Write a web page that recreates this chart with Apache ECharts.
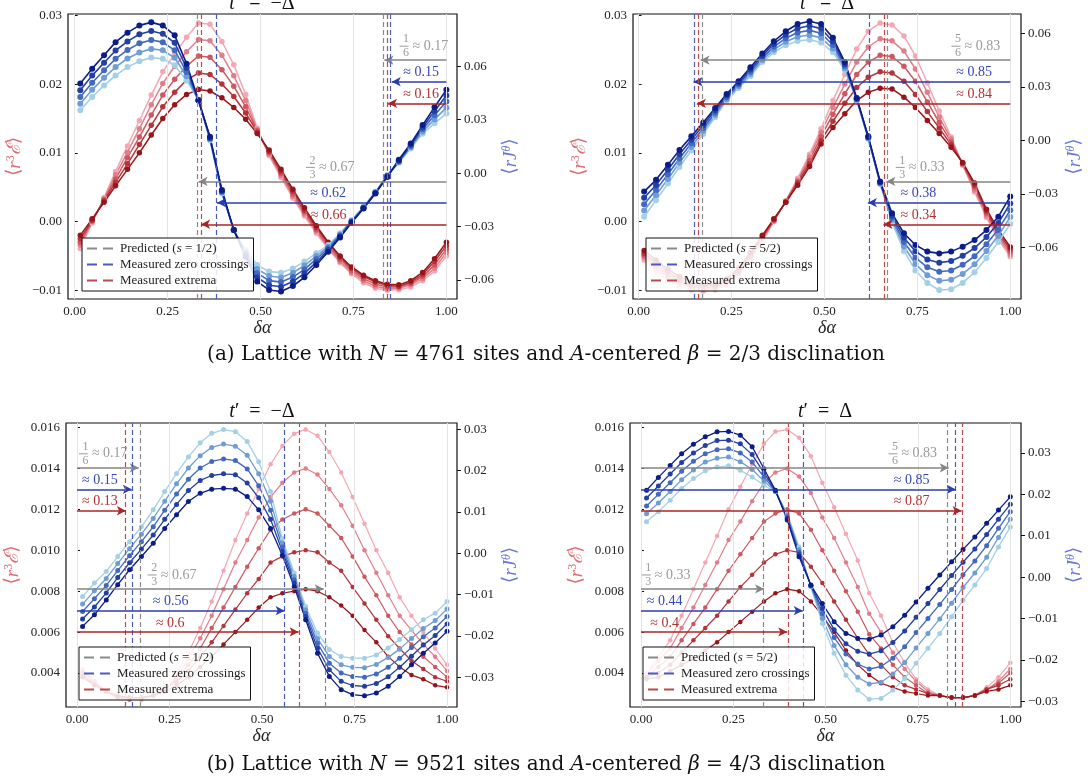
<!DOCTYPE html>
<html>
<head>
<meta charset="utf-8">
<script src="https://cdn.jsdelivr.net/npm/echarts@6/dist/echarts.min.js"></script>
<style>html,body{margin:0;padding:0;background:#fff}#main{width:1091px;height:784px}</style>
</head>
<body>
<div id="main"></div>
<script>
// δα sample points
var X = [0.015,0.047,0.079,0.110,0.142,0.174,0.206,0.237,0.269,0.301,0.333,0.364,0.396,0.428,0.460,0.491,0.523,0.555,0.587,0.618,0.650,0.682,0.714,0.745,0.777,0.809,0.841,0.872,0.904,0.936,0.968,1.000];

// (a) t' = -Δ, <r^3 E>, light -> dark
var p1Red = [
  [-0.0039,-0.0002,0.0035,0.0073,0.0110,0.0147,0.0184,0.0218,0.0244,0.0268,0.0289,0.0287,0.0262,0.0228,0.0185,0.0136,0.0096,0.0064,0.0034,0.0008,-0.0017,-0.0040,-0.0060,-0.0076,-0.0089,-0.0097,-0.0100,-0.0099,-0.0095,-0.0086,-0.0072,-0.0050],
  [-0.0034,0.0000,0.0033,0.0068,0.0101,0.0135,0.0170,0.0201,0.0226,0.0247,0.0265,0.0263,0.0242,0.0212,0.0176,0.0134,0.0098,0.0067,0.0037,0.0011,-0.0014,-0.0038,-0.0058,-0.0074,-0.0086,-0.0094,-0.0098,-0.0097,-0.0092,-0.0083,-0.0068,-0.0045],
  [-0.0030,0.0001,0.0032,0.0062,0.0093,0.0123,0.0155,0.0184,0.0207,0.0226,0.0241,0.0239,0.0221,0.0197,0.0167,0.0132,0.0100,0.0070,0.0040,0.0014,-0.0012,-0.0035,-0.0055,-0.0071,-0.0083,-0.0091,-0.0095,-0.0095,-0.0090,-0.0080,-0.0063,-0.0040],
  [-0.0025,0.0002,0.0030,0.0057,0.0084,0.0112,0.0140,0.0167,0.0188,0.0206,0.0216,0.0214,0.0200,0.0182,0.0158,0.0130,0.0102,0.0073,0.0044,0.0017,-0.0009,-0.0032,-0.0052,-0.0068,-0.0080,-0.0088,-0.0093,-0.0094,-0.0088,-0.0077,-0.0058,-0.0035],
  [-0.0020,0.0004,0.0028,0.0052,0.0076,0.0100,0.0126,0.0150,0.0170,0.0185,0.0192,0.0190,0.0180,0.0166,0.0149,0.0128,0.0104,0.0076,0.0047,0.0020,-0.0006,-0.0030,-0.0050,-0.0066,-0.0078,-0.0086,-0.0091,-0.0092,-0.0086,-0.0074,-0.0054,-0.0030]
];
// (a) t' = -Δ, <r J^θ>, light -> dark
var p1Blue = [
  [0.0353,0.0428,0.0493,0.0549,0.0596,0.0628,0.0649,0.0643,0.0606,0.0521,0.0409,0.0185,-0.0114,-0.0320,-0.0432,-0.0516,-0.0553,-0.0559,-0.0535,-0.0497,-0.0450,-0.0404,-0.0338,-0.0264,-0.0189,-0.0105,-0.0011,0.0058,0.0138,0.0222,0.0280,0.0335],
  [0.0390,0.0468,0.0536,0.0596,0.0644,0.0678,0.0698,0.0690,0.0648,0.0544,0.0409,0.0190,-0.0109,-0.0320,-0.0441,-0.0539,-0.0578,-0.0586,-0.0560,-0.0519,-0.0466,-0.0413,-0.0344,-0.0268,-0.0192,-0.0108,-0.0014,0.0062,0.0145,0.0234,0.0302,0.0368],
  [0.0428,0.0508,0.0578,0.0642,0.0692,0.0729,0.0748,0.0736,0.0690,0.0568,0.0409,0.0194,-0.0104,-0.0320,-0.0450,-0.0562,-0.0604,-0.0612,-0.0584,-0.0541,-0.0483,-0.0422,-0.0350,-0.0271,-0.0194,-0.0110,-0.0016,0.0066,0.0152,0.0246,0.0325,0.0402],
  [0.0466,0.0548,0.0620,0.0689,0.0740,0.0780,0.0798,0.0783,0.0732,0.0592,0.0409,0.0199,-0.0100,-0.0320,-0.0460,-0.0586,-0.0630,-0.0638,-0.0609,-0.0563,-0.0500,-0.0432,-0.0356,-0.0274,-0.0196,-0.0112,-0.0018,0.0070,0.0159,0.0258,0.0348,0.0436],
  [0.0503,0.0587,0.0662,0.0736,0.0789,0.0830,0.0847,0.0830,0.0774,0.0615,0.0409,0.0204,-0.0095,-0.0320,-0.0469,-0.0609,-0.0656,-0.0665,-0.0634,-0.0585,-0.0516,-0.0441,-0.0361,-0.0278,-0.0198,-0.0114,-0.0021,0.0075,0.0166,0.0270,0.0370,0.0469]
];

// (a) t' = Δ
var p2Red = [
  [-0.0056,-0.0072,-0.0085,-0.0094,-0.0099,-0.0101,-0.0099,-0.0093,-0.0079,-0.0057,-0.0029,0.0000,0.0030,0.0063,0.0098,0.0135,0.0176,0.0214,0.0251,0.0277,0.0289,0.0286,0.0270,0.0241,0.0202,0.0161,0.0123,0.0082,0.0043,0.0006,-0.0026,-0.0051],
  [-0.0052,-0.0068,-0.0081,-0.0090,-0.0096,-0.0098,-0.0097,-0.0090,-0.0076,-0.0054,-0.0026,0.0001,0.0030,0.0060,0.0094,0.0130,0.0166,0.0200,0.0232,0.0254,0.0266,0.0263,0.0248,0.0222,0.0188,0.0152,0.0120,0.0083,0.0046,0.0009,-0.0022,-0.0048],
  [-0.0049,-0.0064,-0.0077,-0.0087,-0.0094,-0.0096,-0.0095,-0.0088,-0.0074,-0.0051,-0.0024,0.0002,0.0029,0.0058,0.0089,0.0124,0.0156,0.0186,0.0214,0.0232,0.0242,0.0240,0.0226,0.0204,0.0174,0.0144,0.0116,0.0084,0.0050,0.0012,-0.0019,-0.0044],
  [-0.0046,-0.0060,-0.0073,-0.0084,-0.0091,-0.0094,-0.0093,-0.0086,-0.0071,-0.0048,-0.0022,0.0003,0.0028,0.0056,0.0084,0.0118,0.0146,0.0172,0.0195,0.0210,0.0218,0.0216,0.0204,0.0185,0.0160,0.0136,0.0112,0.0085,0.0053,0.0015,-0.0016,-0.0040],
  [-0.0042,-0.0056,-0.0069,-0.0080,-0.0088,-0.0092,-0.0091,-0.0083,-0.0068,-0.0045,-0.0020,0.0004,0.0028,0.0053,0.0080,0.0113,0.0137,0.0157,0.0176,0.0188,0.0194,0.0193,0.0181,0.0166,0.0147,0.0128,0.0108,0.0086,0.0056,0.0018,-0.0012,-0.0037]
];
var p2Blue = [
  [-0.0428,-0.0335,-0.0242,-0.0149,-0.0056,0.0037,0.0130,0.0223,0.0295,0.0360,0.0440,0.0495,0.0535,0.0558,0.0566,0.0550,0.0495,0.0395,0.0225,0.0010,-0.0245,-0.0460,-0.0620,-0.0730,-0.0800,-0.0840,-0.0835,-0.0800,-0.0740,-0.0660,-0.0570,-0.0469],
  [-0.0393,-0.0306,-0.0216,-0.0125,-0.0036,0.0053,0.0143,0.0232,0.0304,0.0373,0.0452,0.0510,0.0554,0.0582,0.0592,0.0576,0.0516,0.0406,0.0228,0.0013,-0.0242,-0.0447,-0.0595,-0.0694,-0.0756,-0.0788,-0.0782,-0.0749,-0.0695,-0.0621,-0.0534,-0.0430],
  [-0.0358,-0.0278,-0.0190,-0.0101,-0.0016,0.0069,0.0156,0.0242,0.0314,0.0386,0.0464,0.0526,0.0574,0.0606,0.0618,0.0602,0.0536,0.0418,0.0232,0.0016,-0.0238,-0.0434,-0.0570,-0.0658,-0.0712,-0.0737,-0.0730,-0.0698,-0.0650,-0.0582,-0.0499,-0.0392],
  [-0.0322,-0.0250,-0.0164,-0.0077,0.0004,0.0085,0.0169,0.0252,0.0323,0.0398,0.0476,0.0542,0.0594,0.0630,0.0644,0.0628,0.0556,0.0429,0.0235,0.0020,-0.0234,-0.0422,-0.0546,-0.0622,-0.0668,-0.0686,-0.0677,-0.0647,-0.0604,-0.0542,-0.0464,-0.0354],
  [-0.0287,-0.0221,-0.0137,-0.0053,0.0023,0.0101,0.0182,0.0261,0.0332,0.0411,0.0488,0.0557,0.0613,0.0654,0.0669,0.0654,0.0576,0.0440,0.0238,0.0023,-0.0231,-0.0409,-0.0521,-0.0587,-0.0624,-0.0634,-0.0624,-0.0596,-0.0559,-0.0503,-0.0428,-0.0315]
];

// (b) t' = -Δ
var p3Red = [
  [0.0042,0.0036,0.0031,0.0028,0.0027,0.0027,0.0029,0.0033,0.0040,0.0050,0.0062,0.0075,0.0090,0.0105,0.0118,0.0130,0.0142,0.0151,0.0157,0.0159,0.0156,0.0148,0.0138,0.0126,0.0113,0.0100,0.0089,0.0077,0.0068,0.0060,0.0052,0.0044],
  [0.0041,0.0036,0.0031,0.0028,0.0027,0.0028,0.0029,0.0032,0.0038,0.0047,0.0057,0.0068,0.0081,0.0094,0.0105,0.0116,0.0126,0.0133,0.0138,0.0140,0.0137,0.0130,0.0122,0.0112,0.0100,0.0089,0.0078,0.0068,0.0061,0.0054,0.0048,0.0041],
  [0.0040,0.0035,0.0031,0.0028,0.0028,0.0028,0.0029,0.0032,0.0037,0.0044,0.0052,0.0062,0.0072,0.0082,0.0092,0.0101,0.0110,0.0115,0.0118,0.0120,0.0118,0.0112,0.0106,0.0097,0.0087,0.0078,0.0068,0.0060,0.0054,0.0048,0.0043,0.0038],
  [0.0039,0.0034,0.0031,0.0028,0.0028,0.0028,0.0029,0.0032,0.0036,0.0041,0.0048,0.0055,0.0063,0.0071,0.0079,0.0086,0.0094,0.0097,0.0099,0.0100,0.0099,0.0094,0.0090,0.0082,0.0074,0.0066,0.0058,0.0052,0.0046,0.0042,0.0038,0.0036],
  [0.0038,0.0034,0.0031,0.0029,0.0028,0.0028,0.0029,0.0031,0.0034,0.0038,0.0043,0.0048,0.0054,0.0060,0.0066,0.0072,0.0077,0.0079,0.0080,0.0081,0.0080,0.0077,0.0073,0.0068,0.0061,0.0055,0.0048,0.0043,0.0039,0.0037,0.0034,0.0033]
];
var p3Blue = [
  [-0.0105,-0.0072,-0.0044,-0.0008,0.0028,0.0064,0.0105,0.0149,0.0193,0.0233,0.0267,0.0290,0.0299,0.0294,0.0270,0.0221,0.0149,0.0035,-0.0048,-0.0129,-0.0193,-0.0233,-0.0250,-0.0254,-0.0254,-0.0246,-0.0229,-0.0209,-0.0185,-0.0161,-0.0145,-0.0117],
  [-0.0123,-0.0091,-0.0061,-0.0025,0.0011,0.0046,0.0084,0.0126,0.0168,0.0206,0.0236,0.0256,0.0264,0.0259,0.0237,0.0192,0.0126,0.0025,-0.0056,-0.0137,-0.0206,-0.0250,-0.0270,-0.0276,-0.0277,-0.0269,-0.0252,-0.0232,-0.0206,-0.0182,-0.0163,-0.0135],
  [-0.0141,-0.0110,-0.0078,-0.0042,-0.0006,0.0028,0.0064,0.0104,0.0143,0.0179,0.0206,0.0222,0.0228,0.0224,0.0204,0.0163,0.0104,0.0015,-0.0064,-0.0145,-0.0218,-0.0266,-0.0290,-0.0298,-0.0300,-0.0292,-0.0276,-0.0254,-0.0228,-0.0202,-0.0181,-0.0153],
  [-0.0159,-0.0130,-0.0096,-0.0059,-0.0023,0.0010,0.0044,0.0082,0.0118,0.0152,0.0176,0.0188,0.0192,0.0190,0.0170,0.0134,0.0082,0.0005,-0.0072,-0.0153,-0.0230,-0.0282,-0.0310,-0.0320,-0.0322,-0.0315,-0.0299,-0.0276,-0.0249,-0.0222,-0.0199,-0.0171],
  [-0.0177,-0.0149,-0.0113,-0.0076,-0.0040,-0.0008,0.0024,0.0060,0.0093,0.0125,0.0145,0.0155,0.0157,0.0155,0.0137,0.0105,0.0060,-0.0005,-0.0081,-0.0161,-0.0242,-0.0298,-0.0330,-0.0342,-0.0345,-0.0338,-0.0322,-0.0298,-0.0270,-0.0242,-0.0217,-0.0189]
];

// (b) t' = Δ
var p4Red = [
  [0.0040,0.0048,0.0056,0.0068,0.0081,0.0094,0.0107,0.0120,0.0131,0.0142,0.0152,0.0158,0.0159,0.0155,0.0146,0.0133,0.0121,0.0108,0.0095,0.0079,0.0068,0.0055,0.0045,0.0037,0.0032,0.0029,0.0028,0.0028,0.0029,0.0033,0.0038,0.0045],
  [0.0039,0.0046,0.0052,0.0062,0.0072,0.0083,0.0094,0.0105,0.0114,0.0124,0.0133,0.0138,0.0140,0.0136,0.0128,0.0116,0.0106,0.0094,0.0082,0.0069,0.0060,0.0050,0.0042,0.0036,0.0031,0.0029,0.0028,0.0028,0.0029,0.0032,0.0036,0.0042],
  [0.0038,0.0043,0.0048,0.0056,0.0064,0.0072,0.0081,0.0090,0.0098,0.0106,0.0114,0.0118,0.0120,0.0118,0.0110,0.0100,0.0090,0.0080,0.0070,0.0059,0.0052,0.0044,0.0038,0.0034,0.0030,0.0029,0.0028,0.0028,0.0029,0.0032,0.0035,0.0040],
  [0.0038,0.0040,0.0044,0.0050,0.0056,0.0062,0.0068,0.0075,0.0082,0.0088,0.0094,0.0098,0.0100,0.0099,0.0092,0.0084,0.0075,0.0066,0.0057,0.0049,0.0044,0.0038,0.0034,0.0032,0.0030,0.0029,0.0028,0.0028,0.0029,0.0032,0.0034,0.0037],
  [0.0037,0.0038,0.0041,0.0044,0.0047,0.0051,0.0055,0.0060,0.0065,0.0070,0.0075,0.0079,0.0081,0.0080,0.0075,0.0068,0.0060,0.0051,0.0044,0.0039,0.0035,0.0033,0.0031,0.0030,0.0029,0.0029,0.0028,0.0028,0.0029,0.0031,0.0032,0.0034]
];
var p4Blue = [
  [0.0134,0.0158,0.0186,0.0214,0.0238,0.0257,0.0266,0.0269,0.0258,0.0242,0.0222,0.0206,0.0154,0.0073,-0.0023,-0.0112,-0.0184,-0.0237,-0.0273,-0.0295,-0.0293,-0.0273,-0.0245,-0.0208,-0.0172,-0.0136,-0.0096,-0.0056,-0.0019,0.0021,0.0073,0.0121],
  [0.0153,0.0179,0.0207,0.0235,0.0259,0.0278,0.0287,0.0290,0.0279,0.0260,0.0232,0.0207,0.0150,0.0067,-0.0022,-0.0100,-0.0165,-0.0212,-0.0242,-0.0258,-0.0254,-0.0234,-0.0206,-0.0171,-0.0136,-0.0101,-0.0063,-0.0025,0.0010,0.0048,0.0096,0.0140],
  [0.0172,0.0200,0.0228,0.0256,0.0280,0.0298,0.0308,0.0310,0.0300,0.0278,0.0242,0.0208,0.0146,0.0061,-0.0021,-0.0088,-0.0146,-0.0186,-0.0210,-0.0222,-0.0216,-0.0196,-0.0168,-0.0134,-0.0100,-0.0066,-0.0030,0.0006,0.0039,0.0076,0.0118,0.0158],
  [0.0191,0.0220,0.0249,0.0277,0.0300,0.0318,0.0330,0.0331,0.0322,0.0296,0.0252,0.0209,0.0142,0.0055,-0.0020,-0.0076,-0.0127,-0.0161,-0.0179,-0.0186,-0.0178,-0.0158,-0.0130,-0.0097,-0.0064,-0.0030,0.0004,0.0036,0.0068,0.0103,0.0140,0.0176],
  [0.0210,0.0241,0.0270,0.0298,0.0321,0.0339,0.0351,0.0352,0.0343,0.0315,0.0262,0.0210,0.0138,0.0049,-0.0019,-0.0064,-0.0108,-0.0136,-0.0148,-0.0150,-0.0140,-0.0120,-0.0092,-0.0060,-0.0027,0.0005,0.0037,0.0067,0.0097,0.0130,0.0162,0.0194]
];

// predicted / measured crossings (vertical dashed lines)
var p1Lines = { pred: [0.3333, 0.8333], zero: [0.383, 0.853], ext: [0.340, 0.843] };
var p2Lines = { pred: [0.1667, 0.6667], zero: [0.148, 0.617], ext: [0.157, 0.659] };
var p3Lines = { pred: [0.1667, 0.6667], zero: [0.148, 0.561], ext: [0.132, 0.599] };
var p4Lines = { pred: [0.3333, 0.8333], zero: [0.438, 0.852], ext: [0.396, 0.868] };

// arrows: [kind, from, to, level on the left axis]
var p1Arrows = [['pred',1,0.8333,0.02348],['zero',1,0.853,0.02034],['ext',1,0.843,0.0172],['pred',1,0.3333,0.00585],['zero',1,0.383,0.00275],['ext',1,0.340,-0.00039]];
var p2Arrows = [['pred',1,0.1667,0.02348],['zero',1,0.148,0.02034],['ext',1,0.157,0.0172],['pred',1,0.6667,0.00585],['zero',1,0.617,0.00275],['ext',1,0.659,-0.00039]];
var p3Arrows = [['pred',0,0.1667,0.01403],['zero',0,0.148,0.01298],['ext',0,0.132,0.01193],['pred',0,0.6667,0.00811],['zero',0,0.561,0.00705],['ext',0,0.599,0.00601]];
var p4Arrows = [['pred',0,0.8333,0.01403],['zero',0,0.852,0.01298],['ext',0,0.868,0.01193],['pred',0,0.3333,0.00811],['zero',0,0.438,0.00705],['ext',0,0.396,0.00601]];

// arrow labels: [kind, x, level, text] or [kind, x, level, num, den, text]
var p1Notes = [['pred',0.874,0.02348,'1','6','0.17'],['zero',0.932,0.02034,'≈ 0.15'],['ext',0.932,0.0172,'≈ 0.16'],['pred',0.622,0.00585,'2','3','0.67'],['zero',0.682,0.00275,'≈ 0.62'],['ext',0.683,-0.00039,'≈ 0.66']];
var p2Notes = [['pred',0.842,0.02348,'5','6','0.83'],['zero',0.903,0.02034,'≈ 0.85'],['ext',0.903,0.0172,'≈ 0.84'],['pred',0.692,0.00585,'1','3','0.33'],['zero',0.753,0.00275,'≈ 0.38'],['ext',0.753,-0.00039,'≈ 0.34']];
var p3Notes = [['pred',0.005,0.01403,'1','6','0.17'],['zero',0.062,0.01298,'≈ 0.15'],['ext',0.062,0.01193,'≈ 0.13'],['pred',0.191,0.00811,'2','3','0.67'],['zero',0.253,0.00705,'≈ 0.56'],['ext',0.252,0.00601,'≈ 0.6']];
var p4Notes = [['pred',0.670,0.01403,'5','6','0.83'],['zero',0.733,0.01298,'≈ 0.85'],['ext',0.733,0.01193,'≈ 0.87'],['pred',0.002,0.00811,'1','3','0.33'],['zero',0.064,0.00705,'≈ 0.44'],['ext',0.064,0.00601,'≈ 0.4']];

var xTicks = [0, 0.25, 0.5, 0.75, 1];
var leftTicksA = [-0.01, 0, 0.01, 0.02, 0.03];
var leftTicksB = [0.004, 0.006, 0.008, 0.010, 0.012, 0.014, 0.016];
var rightTicksA = [-0.06, -0.03, 0, 0.03, 0.06];
var rightTicksB = [-0.03, -0.02, -0.01, 0, 0.01, 0.02, 0.03];

var FONT = '"Liberation Serif", "DejaVu Serif", serif';
var redColors = ['#f4a7b2', '#e27e8a', '#cd5860', '#b3343a', '#981418'];
var blueColors = ['#a4d0e6', '#6e9dd6', '#4269c0', '#2240a4', '#0b1c8b'];
var kindColor = { pred: '#858585', zero: '#2a3db0', ext: '#aa2525' };
var noteColor = { pred: '#9a9a9a', zero: '#3446bb', ext: '#b33030' };
var lineColor = { pred: '#8a8a8a', zero: '#4a5ac4', ext: '#c04848' };

var panels = [
  { grid: { left: 68, top: 14, width: 389, height: 285 }, x: [-0.018, 1.0285], yl: [-0.01126, 0.0302], yr: [-0.0707, 0.0894],
    lt: leftTicksA, rt: rightTicksA, dl: 2, red: p1Red, blue: p1Blue, lines: p1Lines, arrows: p1Arrows, notes: p1Notes, s: '1/2',
    legend: { left: 82, top: 238 }, size: 6, lw: 1.5 },
  { grid: { left: 633, top: 14, width: 388, height: 285 }, x: [-0.015, 1.029], yl: [-0.01126, 0.0302], yr: [-0.089, 0.071],
    lt: leftTicksA, rt: rightTicksA, dl: 2, red: p2Red, blue: p2Blue, lines: p2Lines, arrows: p2Arrows, notes: p2Notes, s: '5/2',
    legend: { left: 646, top: 238 }, size: 6, lw: 1.5 },
  { grid: { left: 66, top: 423, width: 391, height: 284 }, x: [-0.0298, 1.027], yl: [0.00234, 0.01622], yr: [-0.0372, 0.0315],
    lt: leftTicksB, rt: rightTicksB, dl: 3, red: p3Red, blue: p3Blue, lines: p3Lines, arrows: p3Arrows, notes: p3Notes, s: '1/2',
    legend: { left: 79, top: 647 }, size: 5, lw: 1.2 },
  { grid: { left: 630, top: 423, width: 391, height: 284 }, x: [-0.0298, 1.029], yl: [0.00234, 0.01622], yr: [-0.03138, 0.03724],
    lt: leftTicksB, rt: rightTicksB, dl: 3, red: p4Red, blue: p4Blue, lines: p4Lines, arrows: p4Arrows, notes: p4Notes, s: '5/2',
    legend: { left: 643, top: 647 }, size: 5, lw: 1.2 }
];

function fmt(d) {
  return function (v) { return (v < 0 ? '\u2212' : '') + Math.abs(v).toFixed(d); };
}

function axisName(c, body) {
  return {
    color: c, fontFamily: FONT, fontSize: 19,
    rich: { a: { fontSize: 19, color: c, fontFamily: FONT },
            i: { fontSize: 19, fontStyle: 'italic', color: c, fontFamily: FONT },
            s: { fontSize: 12, fontStyle: body, color: c, verticalAlign: 'top', fontFamily: FONT } }
  };
}

var grids = [], xAxes = [], yAxes = [], series = [], legends = [];

panels.forEach(function (p, g) {
  grids.push({ left: p.grid.left, top: p.grid.top, width: p.grid.width, height: p.grid.height,
    show: true, borderColor: '#111', borderWidth: 1.2, backgroundColor: 'transparent' });

  xAxes.push({ type: 'value', gridIndex: g, min: p.x[0], max: p.x[1],
    axisLine: { show: false }, splitLine: { show: false },
    axisTick: { customValues: xTicks, length: 3, lineStyle: { color: '#111' } },
    axisLabel: { customValues: xTicks, formatter: fmt(2), fontFamily: FONT, fontSize: 13, color: '#222', margin: 6 },
    name: 'δα', nameLocation: 'middle', nameGap: 20,
    nameTextStyle: { fontFamily: FONT, fontSize: 18, fontStyle: 'italic', color: '#222' } });

  yAxes.push({ type: 'value', gridIndex: g, position: 'left', min: p.yl[0], max: p.yl[1],
    axisLine: { show: false }, splitLine: { show: false },
    axisTick: { customValues: p.lt, inside: true, length: 3, lineStyle: { color: '#111' } },
    axisLabel: { customValues: p.lt, formatter: fmt(p.dl), fontFamily: FONT, fontSize: 13, color: '#222', margin: 6 },
    name: '{a|⟨}{i|r}{s|3}{i|ℰ}{a|⟩}', nameLocation: 'middle', nameRotate: 90, nameGap: 44,
    nameTextStyle: axisName('#e06a70', 'normal') });

  yAxes.push({ type: 'value', gridIndex: g, position: 'right', min: p.yr[0], max: p.yr[1],
    axisLine: { show: false }, splitLine: { show: false },
    axisTick: { customValues: p.rt, length: 4, lineStyle: { color: '#111' } },
    axisLabel: { customValues: p.rt, formatter: fmt(2), fontFamily: FONT, fontSize: 13, color: '#222', margin: 7 },
    name: '{a|⟨}{i|rJ}{s|θ}{a|⟩}', nameLocation: 'middle', nameRotate: 90, nameGap: 44,
    nameTextStyle: axisName('#6b78d2', 'italic') });

  // light vertical grid lines
  series.push({ type: 'line', xAxisIndex: g, yAxisIndex: 2 * g, data: [], z: 0, silent: true,
    markLine: { silent: true, symbol: ['none', 'none'], label: { show: false },
      lineStyle: { color: '#e4e4e4', width: 1, type: 'solid' },
      data: xTicks.map(function (v) { return { xAxis: v }; }) } });

  p.red.forEach(function (ys, k) {
    series.push({ type: 'line', xAxisIndex: g, yAxisIndex: 2 * g, silent: true, z: 2,
      data: X.map(function (x, i) { return [x, ys[i]]; }),
      symbol: 'circle', symbolSize: p.size - 0.5,
      lineStyle: { width: p.lw, color: redColors[k] }, itemStyle: { color: redColors[k] } });
  });
  p.blue.forEach(function (ys, k) {
    series.push({ type: 'line', xAxisIndex: g, yAxisIndex: 2 * g + 1, silent: true, z: 3,
      data: X.map(function (x, i) { return [x, ys[i]]; }),
      symbol: 'circle', symbolSize: p.size,
      lineStyle: { width: p.lw + 0.1, color: blueColors[k] }, itemStyle: { color: blueColors[k] } });
  });

  var names = { pred: 'Predicted (s = ' + p.s + ')', zero: 'Measured zero crossings', ext: 'Measured extrema' };
  ['pred', 'zero', 'ext'].forEach(function (kind) {
    var ml = p.lines[kind].map(function (v) {
      return { xAxis: v, lineStyle: { color: lineColor[kind], type: [5, 3], width: 1.2 } };
    });
    p.arrows.forEach(function (a) {
      if (a[0] !== kind) return;
      ml.push([{ coord: [a[1], a[3]], symbol: 'none' },
               { coord: [a[2], a[3]], symbol: 'arrow', symbolSize: [7, 9],
                 lineStyle: { color: kindColor[kind], type: 'solid', width: 1.5 } }]);
    });
    var mp = [];
    p.notes.forEach(function (n) {
      if (n[0] !== kind) return;
      var c = noteColor[kind];
      if (n.length === 6) {
        mp.push({ coord: [n[1], n[2]], label: { show: true, position: 'inside', align: 'left', verticalAlign: 'middle', offset: [0, -14],
          formatter: '{n|' + n[3] + '}{e|}\n{b|}{t|≈ ' + n[5] + '}\n{n|' + n[4] + '}{e|}',
          rich: { n: { fontSize: 12, width: 9, align: 'center', lineHeight: 7, color: c, fontFamily: FONT },
                  e: { width: 46, lineHeight: 7 },
                  b: { width: 9, height: 1, backgroundColor: c, lineHeight: 7 },
                  t: { fontSize: 14, width: 46, align: 'left', padding: [0, 0, 0, 4], lineHeight: 7, color: c, fontFamily: FONT } } } });
      } else {
        mp.push({ coord: [n[1], n[2]], label: { show: true, position: 'inside', align: 'center', verticalAlign: 'middle', offset: [0, -9],
          formatter: n[3], color: c, fontSize: 14, fontFamily: FONT } });
      }
    });
    series.push({ type: 'line', name: names[kind], xAxisIndex: g, yAxisIndex: 2 * g, data: [], z: 5, silent: true,
      symbol: 'none', lineStyle: { color: lineColor[kind], type: [10, 6], width: 1.5 }, itemStyle: { color: lineColor[kind] },
      markLine: { silent: true, symbol: ['none', 'none'], label: { show: false }, data: ml },
      markPoint: { silent: true, symbol: 'circle', symbolSize: 1, itemStyle: { color: 'rgba(0,0,0,0)' }, data: mp } });
  });

  legends.push({ left: p.legend.left, top: p.legend.top, orient: 'vertical', selectedMode: false, z: 20,
    data: [names.pred, names.zero, names.ext], backgroundColor: 'rgba(255,255,255,0.85)',
    borderColor: '#111', borderWidth: 1, borderRadius: 0, padding: [3, 5, 3, 4], itemGap: 1,
    itemWidth: 28, itemHeight: 10, itemStyle: { opacity: 0 },
    formatter: function (nm) { return nm.replace('(s', '({i|s}'); },
    textStyle: { fontFamily: FONT, fontSize: 13, color: '#222', lineHeight: 15,
      rich: { i: { fontFamily: FONT, fontSize: 13, fontStyle: 'italic', color: '#222' } } } });
});

function title(x, y, t) {
  return { type: 'text', x: x, y: y, z: 10,
    style: { text: '{i|t}′\u2002=\u2002' + t, fontFamily: FONT, fontSize: 20, fill: '#111', align: 'center', verticalAlign: 'bottom',
      rich: { i: { fontFamily: FONT, fontSize: 20, fontStyle: 'italic', fill: '#111' } } } };
}
var CAPFONT = '"DejaVu Serif", "Liberation Serif", serif';
function caption(y, t) {
  return { type: 'text', x: 546, y: y, z: 10,
    style: { text: t, fontFamily: CAPFONT, fontSize: 20, fill: '#111', align: 'center', verticalAlign: 'middle',
      rich: { i: { fontFamily: CAPFONT, fontSize: 20, fontStyle: 'italic', fill: '#111' } } } };
}

var chart = echarts.init(document.getElementById('main'));
chart.setOption({
  animation: false,
  backgroundColor: '#fff',
  grid: grids,
  xAxis: xAxes,
  yAxis: yAxes,
  legend: legends,
  series: series,
  graphic: [
    title(262, 14, '−Δ'), title(827, 14, 'Δ'),
    title(262, 422, '−Δ'), title(825, 422, 'Δ'),
    caption(355, '(a) Lattice with {i|N} = 4761 sites and {i|A}-centered {i|β} = 2/3 disclination'),
    caption(765, '(b) Lattice with {i|N} = 9521 sites and {i|A}-centered {i|β} = 4/3 disclination')
  ]
});
</script>
</body>
</html>
